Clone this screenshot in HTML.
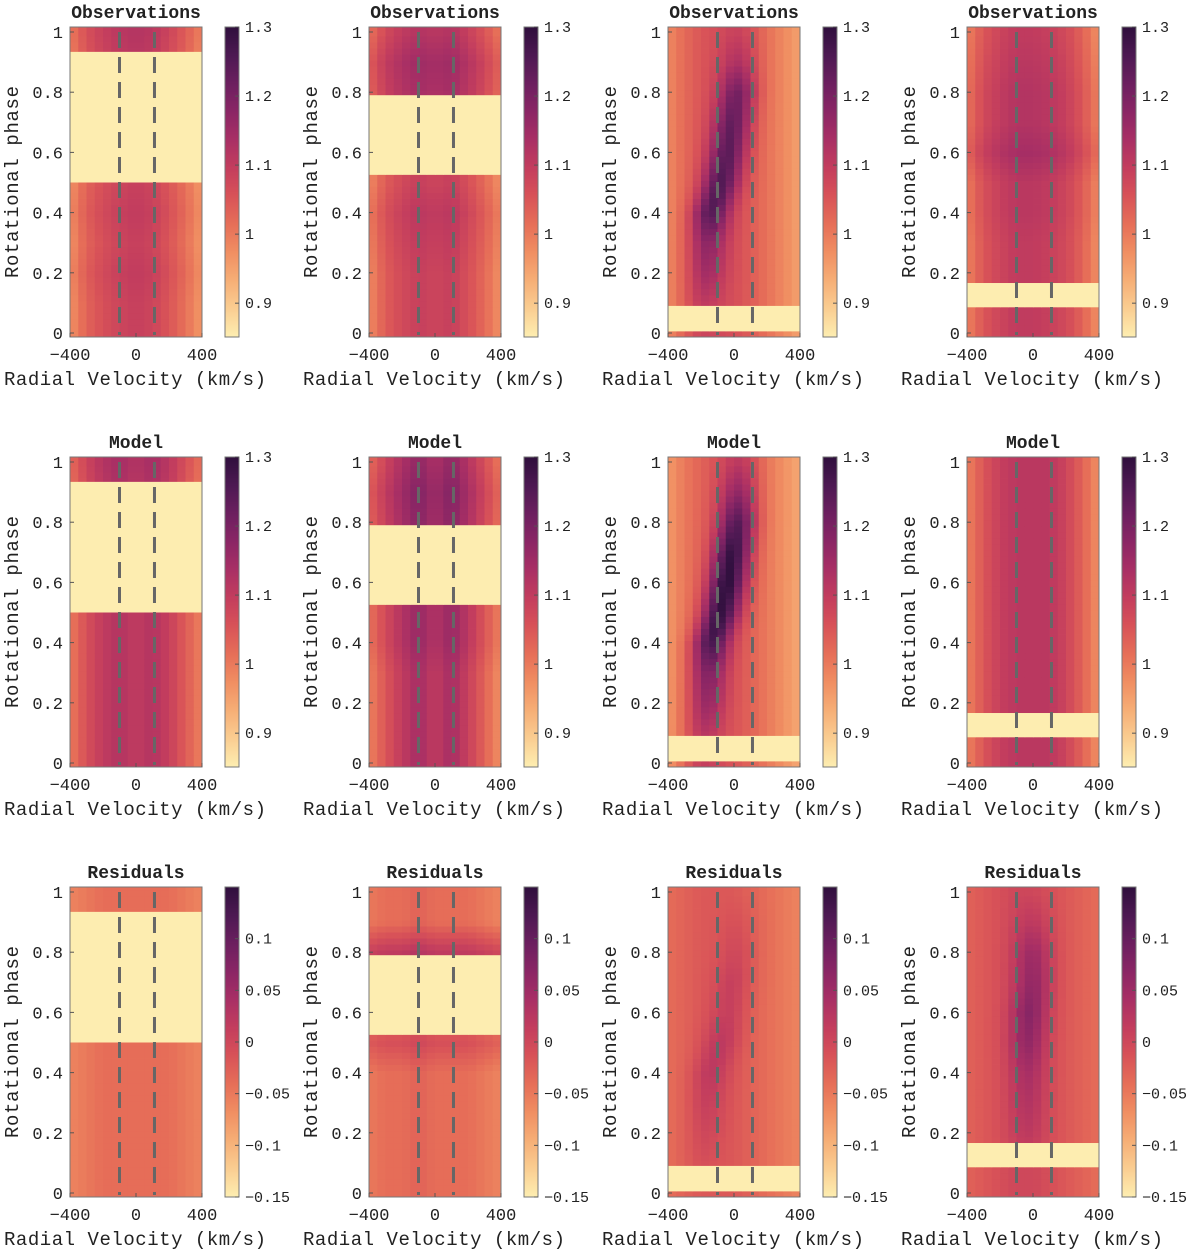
<!DOCTYPE html>
<html><head><meta charset="utf-8"><style>
html,body{margin:0;padding:0;background:#fff;}
svg text{font-family:"Liberation Mono",monospace;fill:#222;}
</style></head><body>
<svg id="fig" width="1200" height="1254" viewBox="0 0 1200 1254" xmlns="http://www.w3.org/2000/svg"></svg>
<script>
const velocities=[-400,-300,-200,-100,0,100,200,300,400];
const phases=[0,0.1,0.2,0.3,0.4,0.5,0.6,0.7,0.8,0.9,1.0];
const zeros=[0,0,0,0,0,0,0,0,0,0,0];
// Observations
const o1Profile=[0.97,1.03,1.06,1.08,1.09,1.08,1.05,1.01,0.96];
const o1Offset=[0,0,0.01,0,0.01,0,0,0,0,0.02,0.03];
const o2Profile=[0.98,1.04,1.07,1.09,1.08,1.09,1.06,1.02,0.97];
const o2Offset=[0,0,0,0.01,0.02,0,0,0,0.05,0.06,0.03];
const o3Profile=[0.98,1.02,1.05,1.06,1.06,1.04,1.01,0.98,0.95];
const o3RidgeVel=[-200,-190,-170,-160,-140,-80,-40,-10,20,30,40];
const o3RidgeAmp=[0.03,0.05,0.09,0.12,0.19,0.19,0.18,0.17,0.15,0.07,0.03];
const o4Profile=[0.99,1.05,1.08,1.10,1.10,1.09,1.07,1.03,0.97];
const o4Offset=[0,0,0,0,0.01,0.01,0.04,0.02,0.02,0.01,0];
// Model
const m1Profile=[1.00,1.06,1.10,1.12,1.10,1.12,1.09,1.04,0.99];
const m1Offset=[0,0,0,0,0,0,0,0,0,0.01,0.02];
const m2Profile=[0.99,1.05,1.10,1.14,1.10,1.14,1.09,1.03,0.97];
const m2Offset=[0,0,0,0,0.02,0.02,0.02,0.02,0.04,0.05,0.03];
const m3Profile=[0.96,1.00,1.03,1.05,1.05,1.03,1.00,0.97,0.94];
const m3RidgeAmp=[0.06,0.08,0.12,0.15,0.22,0.24,0.25,0.24,0.2,0.12,0.06];
const m4Profile=[0.99,1.05,1.09,1.11,1.11,1.11,1.08,1.03,0.97];
// Residuals
const r1Profile=[-0.06,-0.05,-0.04,-0.04,-0.04,-0.04,-0.04,-0.05,-0.06];
const r2Profile=[-0.05,-0.04,-0.04,-0.03,-0.04,-0.04,-0.04,-0.05,-0.06];
const r2Offset=[0,0,0,0,0,0.03,0,0,0.06,0,0];
const r3Profile=[-0.04,-0.03,-0.02,-0.02,-0.02,-0.03,-0.04,-0.05,-0.06];
const r3RidgeAmp=[0,0.01,0.02,0.03,0.04,0.04,0.03,0.03,0.02,0.01,0];
const r4Profile=[-0.03,-0.02,-0.01,0,0,-0.01,-0.02,-0.03,-0.04];
const r4RidgeVel=[-30,-30,-30,-30,-30,-30,-20,0,0,0,0];
const r4RidgeAmp=[0,0,0.02,0.03,0.04,0.06,0.07,0.06,0.05,0.02,0];
// Gaps per column [from, to] in phase
const gapStart=[0.5,0.535,0.013,0.09];
const gapEnd=[0.934,0.79,0.09,0.166];
const obsTicks=[0.9,1,1.1,1.2,1.3];
const resTicks=[-0.15,-0.1,-0.05,0,0.05,0.1];
const phaseTicks=[0,0.2,0.4,0.6,0.8,1];
const velTicks=[-400,0,400];
const markerVels=[-100,112];

const stops=[[253,237,176],[250,205,145],[246,174,118],[240,142,98],[230,110,88],[216,82,88],[195,61,94],[168,47,101],[138,38,101],[107,31,95],[76,25,82],[47,15,61]];
function cmap(t){t=Math.max(0,Math.min(1,t));const f=t*(stops.length-1);const i=Math.min(stops.length-2,Math.floor(f));const u=f-i;const a=stops[i],b=stops[i+1];return 'rgb('+[0,1,2].map(k=>Math.round(a[k]+(b[k]-a[k])*u)).join(',')+')';}
const NS='http://www.w3.org/2000/svg';
const svg=document.getElementById('fig');
function mk(tag,attrs,parent){const e=document.createElementNS(NS,tag);for(const k in attrs)e.setAttribute(k,attrs[k]);(parent||svg).appendChild(e);return e;}
function interp(arr,xs,x){if(x<=xs[0])return arr[0];if(x>=xs[xs.length-1])return arr[arr.length-1];for(let i=0;i<xs.length-1;i++){if(x<=xs[i+1]){const u=(x-xs[i])/(xs[i+1]-xs[i]);return arr[i]+(arr[i+1]-arr[i])*u;}}return arr[arr.length-1];}

const colX=[70,369,668,967], rowY=[27,457,887], PW=132, PH=310;
const panels=[
 [o1Profile,o1Offset,null,null],[o2Profile,o2Offset,null,null],[o3Profile,zeros,o3RidgeVel,o3RidgeAmp],[o4Profile,o4Offset,null,null],
 [m1Profile,m1Offset,null,null],[m2Profile,m2Offset,null,null],[m3Profile,zeros,o3RidgeVel,m3RidgeAmp],[m4Profile,zeros,null,null],
 [r1Profile,zeros,null,null],[r2Profile,r2Offset,null,null],[r3Profile,zeros,o3RidgeVel,r3RidgeAmp],[r4Profile,zeros,r4RidgeVel,r4RidgeAmp]
];
const titles=['Observations','Model','Residuals'];

for(let r=0;r<3;r++)for(let c=0;c<4;c++){
 const x0=colX[c], y0=rowY[r];
 const vmin=r<2?0.851:-0.15, vmax=r<2?1.3:0.15;
 const xs=v=>x0+(v+400)/800*PW;
 const ys=p=>y0+5+(1-p)*301;
 const g=mk('g',{});
 
 
 const [prof,off,rv,ra]=panels[r*4+c];
 const pStep=0.02, vStep=50;
 const pLo=1-(PH-5)/301;
 for(let p=pLo;p<1.0166;p+=pStep){
  for(let v=-400;v<400;v+=vStep){
   const pc=p+pStep/2, vc=v+vStep/2;
   let val;
   const inGap=pc>gapStart[c]&&pc<gapEnd[c];
   if(inGap) val=vmin;
   else{
    val=interp(prof,velocities,vc)+interp(off,phases,pc);
    if(rv){const cv=interp(rv,phases,pc),a=interp(ra,phases,pc);val+=a*Math.exp(-Math.pow((vc-cv)/80,2)/2);}
   }
   const yt=Math.max(y0,ys(p+pStep)), yb=Math.min(y0+PH,ys(p));
   if(yb<=yt)continue;
   const rc=mk('rect',{x:xs(v).toFixed(2),y:yt.toFixed(2),width:(PW*vStep/800+0.4).toFixed(2),height:(yb-yt+0.4).toFixed(2),fill:cmap((val-vmin)/(vmax-vmin))},g);
   
   
  }
 }
 const gp=mk('rect',{x:x0,y:ys(gapEnd[c]),width:PW,height:ys(gapStart[c])-ys(gapEnd[c]),fill:cmap(0)},g);
 
 
 markerVels.forEach(mv=>{const l=mk('line',{x1:xs(mv),x2:xs(mv),y1:y0+5,y2:y0+PH-2,stroke:'#666',"stroke-width":3,"stroke-dasharray":"16 9"},g);
  
  });
 const fr=mk('rect',{x:x0,y:y0,width:PW,height:PH,fill:'none',stroke:'#777',"stroke-width":1},g);
 
 
 phaseTicks.forEach(pt=>{const y=ys(pt);
  mk('line',{x1:x0,x2:x0+4,y1:y,y2:y,stroke:'#555'},g);
  const t=mk('text',{x:x0-7,y:y+6,"text-anchor":'end',"font-size":17},g);t.textContent=String(pt);
  
  });
 velTicks.forEach(vt=>{const x=xs(vt);
  mk('line',{x1:x,x2:x,y1:y0+PH,y2:y0+PH-4,stroke:'#555'},g);
  const t=mk('text',{x:x,y:y0+PH+23,"text-anchor":'middle',"font-size":17},g);t.textContent=vt<0?'\u2212'+(-vt):String(vt);
  
  });
 const xl=mk('text',{x:x0+65,y:y0+PH+48,"text-anchor":'middle',"font-size":19,textLength:262},g);xl.textContent='Radial Velocity (km/s)';
 
 
 const yl=mk('text',{x:0,y:0,"text-anchor":'middle',"font-size":19,transform:'translate('+(x0-52)+','+(y0+155)+') rotate(-90)',textLength:192},g);yl.textContent='Rotational phase';
 
 
 const tt=mk('text',{x:x0+66,y:y0-9,"text-anchor":'middle',"font-size":18,"font-weight":'bold'},g);tt.textContent=titles[r];
 
 
 const cbx=x0+155;
 const cb=mk('g',{},g);
 
 
 for(let i=0;i<PH;i+=2){mk('rect',{x:cbx,y:y0+PH-i-2,width:14,height:2.4,fill:cmap(i/PH)},cb);}
 mk('rect',{x:cbx,y:y0,width:14,height:PH,fill:'none',stroke:'#777'},cb);
 (r<2?obsTicks:resTicks).forEach(tv=>{const y=y0+PH-(tv-vmin)/(vmax-vmin)*PH;
  mk('line',{x1:cbx+10,x2:cbx+14,y1:y,y2:y,stroke:'#555'},cb);
  const t=mk('text',{x:cbx+20,y:y+5,"font-size":15},cb);t.textContent=tv<0?'\u2212'+String(-tv):String(tv);
  
  });
}
</script>
</body></html>
